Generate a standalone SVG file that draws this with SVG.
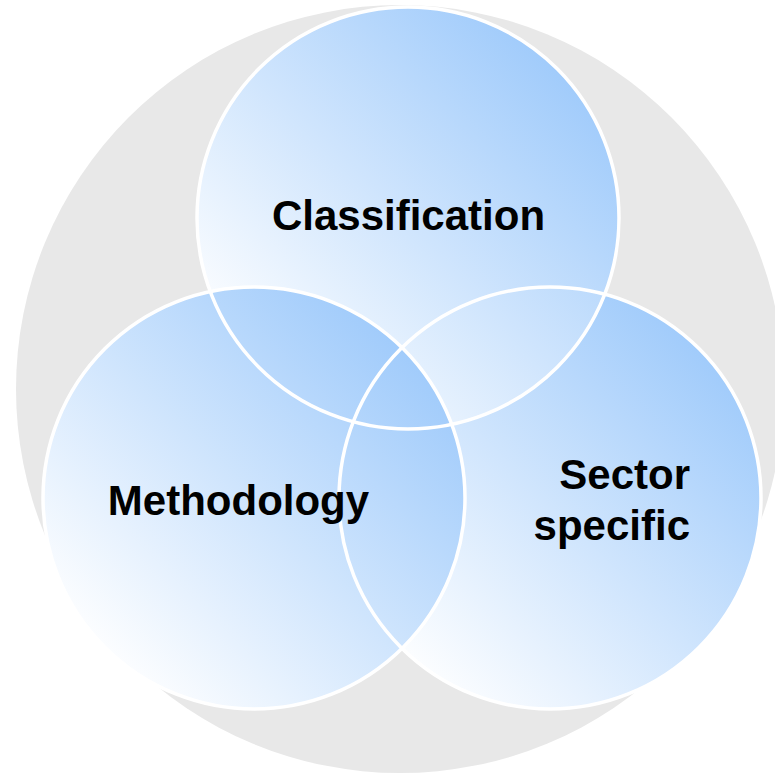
<svg xmlns="http://www.w3.org/2000/svg" width="775" height="773" viewBox="0 0 775 773">
  <defs>
    <linearGradient id="g" x1="0" y1="1" x2="1" y2="0">
      <stop offset="0.12" stop-color="#ffffff"/>
      <stop offset="0.86" stop-color="#a0cbfb"/>
    </linearGradient>
    <style>
      .fill { fill: url(#g); stroke: none; }
      .ring { fill: none; stroke: #ffffff; stroke-width: 3.5; }
      .lbl { font-family: "Liberation Sans", Arial, sans-serif; font-weight: bold; font-size: 42px; fill: #000000; }
    </style>
  </defs>
  <rect width="775" height="773" fill="#ffffff"/>
  <circle cx="400" cy="389" r="384" fill="#e8e8e8"/>

  <g id="sector">
    <circle class="fill" cx="550" cy="498" r="211"/>
  </g>
  <g id="classification">
    <circle class="fill" cx="408" cy="218" r="211"/>
  </g>
  <g id="methodology">
    <circle class="fill" cx="254" cy="498" r="211"/>
  </g>

  <g id="connectors">
    <circle class="ring" cx="550" cy="498" r="211"/>
    <circle class="ring" cx="408" cy="218" r="211"/>
    <circle class="ring" cx="254" cy="498" r="211"/>
  </g>

  <g id="labels">
    <text class="lbl" x="408.5" y="230" text-anchor="middle">Classification</text>
    <text class="lbl" x="238.5" y="515" text-anchor="middle">Methodology</text>
    <text class="lbl" x="690" y="489" text-anchor="end">Sector</text>
    <text class="lbl" x="690" y="540" text-anchor="end">specific</text>
  </g>
</svg>
